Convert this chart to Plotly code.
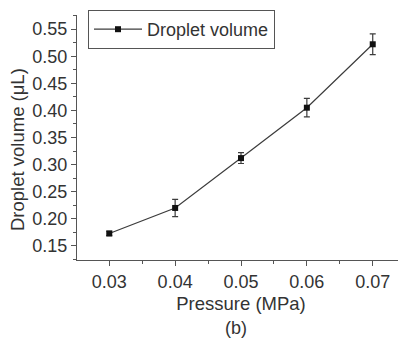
import plotly.graph_objects as go

pressure = [0.03, 0.04, 0.05, 0.06, 0.07]
volume = [0.173, 0.220, 0.312, 0.405, 0.522]
error = [0.004, 0.016, 0.010, 0.017, 0.019]

FONT = "Liberation Sans, Arial"
TXT = "#333333"

# the page body has an 8px default margin, so the figure is 8px smaller
W, H = 398, 332
L, R, T, B = 69, 1, 7, 80
PW = W - L - R
PH = H - T - B

fig = go.Figure()
fig.add_trace(go.Scatter(
    x=pressure, y=volume, mode="lines+markers", name="Droplet volume",
    line=dict(color="#3c3c3c", width=1.2),
    marker=dict(symbol="square", size=6, color="#111111"),
    error_y=dict(type="data", array=error, visible=True, color="#3c3c3c", thickness=1.2, width=3),
))

axis_common = dict(
    showline=True, linecolor="#555555", linewidth=1.3, mirror=False,
    ticks="outside", ticklen=5, tickwidth=1.2, tickcolor="#555555",
    showgrid=False, zeroline=False,
    tickfont=dict(family=FONT, size=18, color=TXT),
    title_font=dict(family=FONT, size=18.5, color=TXT),
    minor=dict(ticks="outside", ticklen=3, tickcolor="#555555", tickwidth=1.2),
)

fig.update_xaxes(range=[0.0251, 0.0749], tickvals=[0.03, 0.04, 0.05, 0.06, 0.07],
                 ticktext=["0.03", "0.04", "0.05", "0.06", "0.07"],
                 title_text="Pressure (MPa)", title_standoff=6, **axis_common)
fig.update_xaxes(minor_dtick=0.005, minor_tick0=0.025)
fig.update_yaxes(range=[0.124, 0.576], dtick=0.05, tick0=0.15, tickformat=".2f", **axis_common)
fig.update_yaxes(minor_dtick=0.025, minor_tick0=0.125)

fig.add_annotation(text="Droplet volume (μL)", x=(9 - L) / PW, xref="paper",
                   y=(PH + T - 142) / PH, yref="paper",
                   showarrow=False, textangle=-90, xanchor="center", yanchor="middle",
                   font=dict(family=FONT, size=18.5, color=TXT))
fig.add_annotation(text="(b)", x=(228 - L) / PW, y=(PH + T - 320) / PH, xref="paper", yref="paper",
                   showarrow=False, xanchor="center", yanchor="middle",
                   font=dict(family=FONT, size=18, color=TXT))

fig.update_layout(
    width=W, height=H,
    margin=dict(l=L, r=R, t=T, b=B),
    paper_bgcolor="white", plot_bgcolor="white",
    showlegend=True,
    legend=dict(x=(80 - L) / PW, y=(PH + T - 2) / PH, xanchor="left", yanchor="top",
                bordercolor="#555555", borderwidth=1, bgcolor="white", itemwidth=48,
                font=dict(family=FONT, size=18, color=TXT)),
)

fig.write_html("out.html")
